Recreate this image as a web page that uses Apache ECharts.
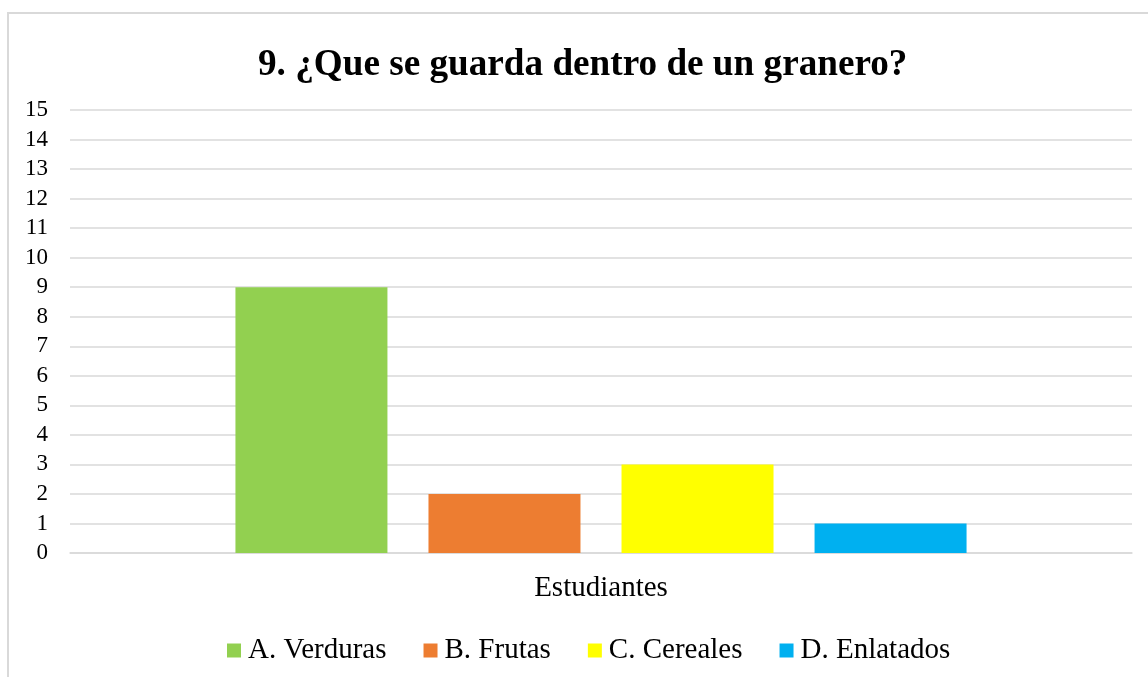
<!DOCTYPE html>
<html>
<head>
<meta charset="utf-8">
<script src="https://cdn.jsdelivr.net/npm/echarts@6/dist/echarts.min.js"></script>
<style>
    html, body {
        margin: 0;
        padding: 0;
        background: white;
    }
    #chart {
        width: 1148px;
        height: 677px;
    }
</style>
</head>
<body>
<div id="chart"></div>
<script>
// datos
const categories = ['Estudiantes']
const seriesNames = ['A. Verduras', 'B. Frutas', 'C. Cereales', 'D. Enlatados']
const seriesValues = [9, 2, 3, 1]
const seriesColors = ['#92D050', '#ED7D31', '#FFFF00', '#00B0F0']

const font = "'Liberation Serif', 'Times New Roman', serif"
const myChart = echarts.init(document.getElementById('chart'))

myChart.setOption({
    animation: false,
    graphic: [
        {
            // borde del grafico
            type: 'rect',
            shape: { x: 8, y: 13, width: 1200, height: 700 },
            style: { fill: 'none', stroke: '#D9D9D9', lineWidth: 2 },
            silent: true
        }
    ],
    title: {
        text: '9. ¿Que se guarda dentro de un granero?',
        left: 253,
        top: 42,
        textStyle: {
            color: 'black',
            fontFamily: font,
            fontWeight: 'bold',
            fontSize: 37.2
        }
    },
    legend: {
        data: seriesNames,
        left: 222,
        top: 631,
        icon: 'rect',
        itemWidth: 14,
        itemHeight: 14,
        itemGap: 37,
        textStyle: {
            color: 'black',
            fontFamily: font,
            fontSize: 29,
            padding: [0, 0, 0, 2]
        }
    },
    grid: {
        left: 70,
        right: 16,
        top: 110,
        bottom: 124
    },
    xAxis: {
        type: 'category',
        data: categories,
        axisLine: {
            show: true,
            lineStyle: { color: '#D9D9D9', width: 1.5 }
        },
        axisTick: { show: false },
        axisLabel: {
            margin: 21,
            color: 'black',
            fontFamily: font,
            fontSize: 29
        }
    },
    yAxis: {
        type: 'value',
        min: 0,
        max: 15,
        interval: 1,
        axisLine: { show: false },
        axisTick: { show: false },
        splitLine: {
            lineStyle: { color: '#D9D9D9', width: 1.5 }
        },
        axisLabel: {
            margin: 22,
            color: 'black',
            fontFamily: font,
            fontSize: 23
        }
    },
    series: seriesNames.map((name, index) => {
        return {
            name: name,
            type: 'bar',
            data: [seriesValues[index]],
            barWidth: 152,
            barGap: '27%',
            itemStyle: { color: seriesColors[index] }
        }
    })
})
</script>
</body>
</html>
